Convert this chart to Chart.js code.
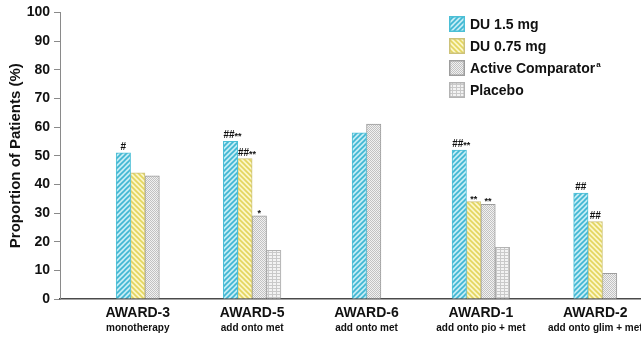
<!DOCTYPE html>
<html>
<head>
<meta charset="utf-8">
<title>AWARD trials - proportion of patients</title>
<script src="https://cdn.jsdelivr.net/npm/chart.js@4.4.1/dist/chart.umd.min.js"></script>
<style>
  body { margin: 0; background: #fff; }
  #wrap { width: 641px; height: 340px; }
</style>
</head>
<body>
<div id="wrap"><canvas id="awardChart" width="641" height="340"></canvas></div>
<script>
// ---- data ----
const trials = ["AWARD-3", "AWARD-5", "AWARD-6", "AWARD-1", "AWARD-2"];
const backgrounds = ["monotherapy", "add onto met", "add onto met", "add onto pio + met", "add onto glim + met"];

const du15 = [51, 55, 58, 52, 37];
const du075 = [44, 49, null, 34, 27];
const comparator = [43, 29, 61, 33, 9];
const placebo = [null, 17, null, 18, null];

const du15Marks = ["#", "##**", "", "##**", "##"];
const du075Marks = ["", "##**", "", "**", "##"];
const comparatorMarks = ["", "*", "", "**", ""];
const placeboMarks = ["", "", "", "", ""];

const FONT = "'Liberation Sans', Arial, Helvetica, sans-serif";

// ---- fill patterns ----
const hatch = (bg, line, dir) => {
  const s = 5;
  const c = document.createElement("canvas");
  c.width = s; c.height = s;
  const g = c.getContext("2d");
  g.fillStyle = bg;
  g.fillRect(0, 0, s, s);
  g.strokeStyle = line;
  g.lineWidth = 1.6;
  g.beginPath();
  if (dir > 0) {
    g.moveTo(-1, s + 1); g.lineTo(s + 1, -1);
    g.moveTo(-1, 1); g.lineTo(1, -1);
    g.moveTo(s - 1, s + 1); g.lineTo(s + 1, s - 1);
  } else {
    g.moveTo(-1, -1); g.lineTo(s + 1, s + 1);
    g.moveTo(s - 1, -1); g.lineTo(s + 1, 1);
    g.moveTo(-1, s - 1); g.lineTo(1, s + 1);
  }
  g.stroke();
  return g.createPattern(c, "repeat");
};

const checker = (a, b) => {
  const c = document.createElement("canvas");
  c.width = 2; c.height = 2;
  const g = c.getContext("2d");
  g.fillStyle = a; g.fillRect(0, 0, 2, 2);
  g.fillStyle = b; g.fillRect(0, 0, 1, 1); g.fillRect(1, 1, 1, 1);
  return g.createPattern(c, "repeat");
};

const lines = (bg, line) => {
  const c = document.createElement("canvas");
  c.width = 4; c.height = 3;
  const g = c.getContext("2d");
  g.fillStyle = bg; g.fillRect(0, 0, 4, 3);
  g.fillStyle = line; g.fillRect(0, 0, 4, 1); g.fillRect(0, 1, 1, 2);
  return g.createPattern(c, "repeat");
};

const blueFill = hatch("#c4ecf4", "#3fb6d3", 1);
const yellowFill = hatch("#fbf6c8", "#e3d55e", -1);
const comparatorFill = checker("#f1f1f1", "#c2c2c2");
const placeboFill = lines("#f3f3f3", "#c9c9c9");

const toPoints = (arr) => arr.map((v, i) => ({ x: i, y: v }));

const datasets = [
  { label: "DU 1.5 mg", data: toPoints(du15), marks: du15Marks, backgroundColor: blueFill, borderColor: "#4bbfd6" },
  { label: "DU 0.75 mg", data: toPoints(du075), marks: du075Marks, backgroundColor: yellowFill, borderColor: "#cdc27a" },
  { label: "Active Comparator", sup: "a", data: toPoints(comparator), marks: comparatorMarks, backgroundColor: comparatorFill, borderColor: "#9d9d9d" },
  { label: "Placebo", data: toPoints(placebo), marks: placeboMarks, backgroundColor: placeboFill, borderColor: "#b3b3b3" }
].map((ds) => ({ ...ds, borderWidth: 1, borderSkipped: "bottom", barThickness: 14.4, skipNull: true }));

// ---- plugins ----
const marksPlugin = {
  id: "marks",
  afterDatasetsDraw(chart) {
    const ctx = chart.ctx;
    ctx.save();
    ctx.fillStyle = "#111";
    ctx.textBaseline = "alphabetic";
    chart.data.datasets.forEach((ds, di) => {
      const meta = chart.getDatasetMeta(di);
      ds.marks.forEach((mark, i) => {
        if (!mark) return;
        const bar = meta.data[i];
        const base = bar.y - 3;
        const hashes = mark.replace(/\*/g, "");
        const stars = mark.replace(/#/g, "");
        ctx.font = `bold 10px ${FONT}`;
        const hw = hashes ? ctx.measureText(hashes).width : 0;
        ctx.font = `bold 9px ${FONT}`;
        const sw = stars ? ctx.measureText(stars).width : 0;
        let x = bar.x - (hw + sw) / 2 + (hashes && stars ? 2 : 0);
        ctx.textAlign = "left";
        if (hashes) {
          ctx.font = `bold 10px ${FONT}`;
          ctx.fillText(hashes, x, base);
          x += hw;
        }
        if (stars) {
          ctx.font = `bold 9px ${FONT}`;
          ctx.fillText(stars, x, base + (hashes ? 1 : 3));
        }
      });
    });
    ctx.restore();
  }
};

const subLabelPlugin = {
  id: "subLabels",
  afterDraw(chart) {
    const ctx = chart.ctx;
    const xScale = chart.scales.x;
    ctx.save();
    ctx.font = `bold 10px ${FONT}`;
    ctx.fillStyle = "#111";
    ctx.textAlign = "center";
    ctx.textBaseline = "middle";
    backgrounds.forEach((txt, i) => {
      ctx.fillText(txt, xScale.getPixelForValue(i), chart.chartArea.bottom + 29);
    });
    ctx.restore();
  }
};

const legendPlugin = {
  id: "boxLegend",
  afterDraw(chart) {
    const ctx = chart.ctx;
    const left = 449, top = 16, row = 22, box = 16;
    ctx.save();
    chart.data.datasets.forEach((ds, i) => {
      const y = top + i * row;
      ctx.fillStyle = ds.backgroundColor;
      ctx.fillRect(left, y, box, box);
      ctx.strokeStyle = ds.borderColor;
      ctx.lineWidth = 1.5;
      ctx.strokeRect(left + 0.75, y + 0.75, box - 1.5, box - 1.5);
      ctx.fillStyle = "#111";
      ctx.font = `bold 14px ${FONT}`;
      ctx.textAlign = "left";
      ctx.textBaseline = "middle";
      ctx.fillText(ds.label, left + box + 5, y + box / 2 + 1);
      if (ds.sup) {
        const w = ctx.measureText(ds.label).width;
        ctx.font = `bold 8px ${FONT}`;
        ctx.fillText(ds.sup, left + box + 6 + w, y + box / 2 - 3);
      }
    });
    ctx.restore();
  }
};

// ---- chart ----
new Chart(document.getElementById("awardChart"), {
  type: "bar",
  data: { datasets },
  plugins: [marksPlugin, subLabelPlugin, legendPlugin],
  options: {
    responsive: false,
    animation: false,
    devicePixelRatio: 1,
    layout: { padding: { top: 10, right: 0, bottom: 0, left: 0 } },
    plugins: { legend: { display: false }, tooltip: { enabled: false } },
    scales: {
      x: {
        type: "linear",
        min: -0.68,
        max: 4.4,
        offset: false,
        afterBuildTicks: (scale) => { scale.ticks = trials.map((_, i) => ({ value: i })); },
        afterFit: (scale) => { scale.height = 41; },
        ticks: {
          autoSkip: false,
          maxRotation: 0,
          padding: 6,
          color: "#111",
          font: { family: FONT, size: 14, weight: "bold" },
          callback: (value) => trials[value]
        },
        grid: { display: false, drawTicks: false },
        border: { color: "#4a4a4a", width: 1.5 }
      },
      y: {
        min: 0,
        max: 100,
        afterFit: (scale) => { scale.width = 60; },
        ticks: {
          stepSize: 10,
          padding: 4,
          color: "#111",
          font: { family: FONT, size: 14, weight: "bold" }
        },
        grid: { drawOnChartArea: false, drawTicks: true, tickLength: 6, color: "#8a8a8a" },
        border: { color: "#8a8a8a", width: 1 },
        title: {
          display: true,
          text: "Proportion of Patients (%)",
          color: "#111",
          padding: { top: 7, bottom: 2 },
          font: { family: FONT, size: 15, weight: "bold" }
        }
      }
    }
  }
});
</script>
</body>
</html>
